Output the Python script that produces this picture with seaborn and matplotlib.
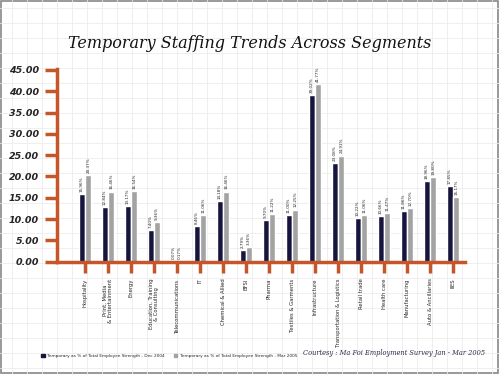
import matplotlib
matplotlib.use("Agg")
import matplotlib.pyplot as plt
import seaborn as sns
import pandas as pd
import numpy as np

segments = ["Hospitality", "Print, Media\n& Entertainment", "Energy",
            "Education, Training\n& Consulting", "Telecommunications", "IT",
            "Chemical & Allied", "BFSI", "Pharma", "Textiles & Garments",
            "Infrastructure", "Transportation & Logistics", "Retail trade",
            "Health care", "Manufacturing", "Auto & Ancillaries", "IIES"]
dec_2004 = [15.96, 12.84, 13.17, 7.40, 0.07, 8.46, 14.18, 2.79, 9.70, 11.00,
            39.02, 23.08, 10.22, 10.66, 11.86, 18.96, 17.85]
mar_2005 = [20.37, 16.46, 16.54, 9.36, 0.17, 11.06, 16.46, 3.36, 11.22, 12.25,
            41.77, 24.91, 11.06, 11.47, 12.70, 19.80, 15.17]
series = ["Temporary as % of Total Employee Strength - Dec 2004",
          "Temporary as % of Total Employee Strength - Mar 2005"]

df = pd.DataFrame({
    "segment": segments * 2,
    "value": dec_2004 + mar_2005,
    "series": [series[0]] * len(segments) + [series[1]] * len(segments),
})

sns.set_theme(style="white")
narrow = ["Liberation Sans Narrow", "DejaVu Sans"]
orange = "#c4562a"

fig = plt.figure(figsize=(5, 3.75), dpi=100)
fig.patch.set_facecolor("white")

# graph-paper background
bg = fig.add_axes([0, 0, 1, 1], zorder=-10)
bg.set_xlim(0, 500)
bg.set_ylim(375, 0)
for gx in np.arange(12, 500, 15):
    bg.axvline(gx, color="#ececec", lw=0.6)
for gy in np.arange(8, 375, 15):
    bg.axhline(gy, color="#ececec", lw=0.6)
bg.axis("off")
bg.add_patch(plt.Rectangle((1, 1), 497, 372, fill=False, ec="#888888", lw=1.2))

ax = fig.add_axes([0.114, 0.302, 0.816, 0.515])
ax.patch.set_alpha(0)
sns.barplot(data=df, x="segment", y="value", hue="series",
            palette=["#15153d", "#a3a3a3"], width=0.55, gap=0,
            ax=ax, saturation=1, legend=True)

for cont in ax.containers:
    ax.bar_label(cont, labels=[f"{v.get_height():.2f}%" for v in cont],
                 rotation=90, fontsize=3.0, padding=1.5, family=narrow)

ax.set_xlim(-1.22, 16.52)
ax.set_ylim(0, 45.3)
ax.set_yticks(np.arange(0, 46, 5))
ax.set_yticklabels([f"{v:.2f}" for v in np.arange(0, 46, 5)],
                   fontsize=6.8, style="italic", fontweight="bold")
ax.set_xticks(range(len(segments)))
ax.set_xticklabels(segments, rotation=90, fontsize=3.8, family=narrow,
                   va="top", ha="center", linespacing=1.0)
ax.set_xlabel("")
ax.set_ylabel("")
for s in ["top", "right"]:
    ax.spines[s].set_visible(False)
for s in ["left", "bottom"]:
    ax.spines[s].set_color(orange)
    ax.spines[s].set_linewidth(2.5)
ax.tick_params(axis="y", length=9, width=2.5, color=orange, pad=4, left=True)
ax.tick_params(axis="x", length=8, width=2.5, color=orange, pad=4, bottom=True)
ax.grid(False)

ax.get_legend().remove()
handles = [plt.Rectangle((0, 0), 1, 1, color="#15153d"),
           plt.Rectangle((0, 0), 1, 1, color="#a3a3a3")]
fig.legend(handles, series, loc="lower left", bbox_to_anchor=(0.075, 0.035),
           ncol=2, frameon=False, prop={"family": narrow, "size": 3.1},
           handlelength=0.8, handleheight=0.8, columnspacing=2.0,
           handletextpad=0.6)

fig.text(0.5, 0.885, "Temporary Staffing Trends Across Segments",
         ha="center", va="center", fontsize=11.5, style="italic",
         family="DejaVu Serif", color="#111111")
fig.text(0.97, 0.058, "Courtesy : Ma Foi Employment Survey Jan - Mar 2005",
         ha="right", va="center", fontsize=4.8, style="italic",
         family="DejaVu Serif", color="#2e2e4e")

fig.savefig("out.png", dpi=100)
